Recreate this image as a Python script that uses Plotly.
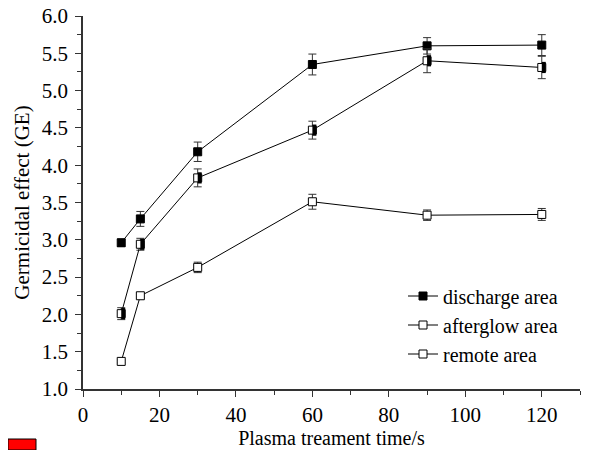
import plotly.graph_objects as go

time_s = [10, 15, 30, 60, 90, 120]
discharge = [2.96, 3.28, 4.18, 5.35, 5.60, 5.61]
discharge_err = [0.05, 0.10, 0.13, 0.14, 0.11, 0.14]
afterglow = [2.01, 2.94, 3.83, 4.47, 5.40, 5.31]
afterglow_err = [0.08, 0.08, 0.12, 0.12, 0.16, 0.15]
remote = [1.37, 2.25, 2.63, 3.51, 3.33, 3.34]
remote_err = [0.02, 0.04, 0.07, 0.10, 0.07, 0.08]

FONT = "Liberation Serif, Times New Roman, serif"

W, H = 582, 442
L, R, T, B = 75, 10, 8, 61
PW, PH = W - L - R, H - T - B
X_RANGE = [0, 130]
shift = 2 * (X_RANGE[1] - X_RANGE[0]) / PW  # 2 px in data units

fig = go.Figure()

def err(vals):
    return dict(type="data", array=vals, visible=True, color="#333", thickness=1, width=4)

fig.add_trace(go.Scatter(
    x=time_s, y=discharge, error_y=err(discharge_err), mode="lines+markers",
    name="discharge area", line=dict(color="black", width=1),
    marker=dict(symbol="square", size=8, color="black", line=dict(color="black", width=1))))
fig.add_trace(go.Scatter(
    x=time_s, y=afterglow, error_y=err(afterglow_err), mode="lines+markers",
    name="afterglow area", line=dict(color="black", width=1),
    marker=dict(symbol="square", size=8, color="white", line=dict(color="black", width=1))))
# right half fill of the afterglow markers (drawn on a hidden axis shifted by 2 px)
fig.add_trace(go.Scatter(
    x=time_s, y=afterglow, mode="markers", showlegend=False, hoverinfo="skip", xaxis="x2",
    marker=dict(symbol="line-ns", size=8, line=dict(color="black", width=4))))
fig.add_trace(go.Scatter(
    x=time_s, y=remote, error_y=err(remote_err), mode="lines+markers",
    name="remote area", line=dict(color="black", width=1),
    marker=dict(symbol="square", size=8, color="white", line=dict(color="black", width=1))))

fig.update_layout(
    width=W, height=H,
    margin=dict(l=L, r=R, t=T, b=B, autoexpand=False),
    paper_bgcolor="white", plot_bgcolor="white",
    font=dict(family=FONT, color="black", size=20),
    showlegend=True,
    legend=dict(x=(436 - 41 - L) / PW, y=(H - B - 317) / PH, xanchor="left", yanchor="middle",
                font=dict(family=FONT, size=20), bgcolor="rgba(0,0,0,0)",
                tracegroupgap=0, itemwidth=30),
    xaxis=dict(range=X_RANGE, tickvals=[0, 20, 40, 60, 80, 100, 120], automargin=False,
               ticks="outside", ticklen=6, tickwidth=1, tickcolor="#333",
               showline=True, linecolor="#333", linewidth=1.5, showgrid=False, zeroline=False,
               tickfont=dict(family=FONT, size=21), ticklabeloverflow="allow",
               minor=dict(dtick=10, tick0=0, ticks="outside", ticklen=4, tickcolor="#333"),
               title=dict(text="Plasma treament time/s", font=dict(family=FONT, size=20), standoff=4)),
    xaxis2=dict(range=[X_RANGE[0] - shift, X_RANGE[1] - shift], overlaying="x", visible=False,
                automargin=False),
    yaxis=dict(range=[1.0, 6.0], dtick=0.5, tick0=1.0, tickformat=".1f", automargin=False,
               ticks="outside", ticklen=6, tickwidth=1, tickcolor="#333",
               showline=True, linecolor="#333", linewidth=1.5, showgrid=False, zeroline=False,
               tickfont=dict(family=FONT, size=21), ticklabelstandoff=3, ticklabeloverflow="allow",
               minor=dict(dtick=0.25, tick0=1.0, ticks="outside", ticklen=4, tickcolor="#333"),
               title=dict(text="Germicidal effect (GE)", font=dict(family=FONT, size=21), standoff=6)),
    shapes=[dict(type="rect", xref="paper", yref="paper",
                 x0=(0 - L) / PW, x1=(28 - L) / PW, y0=(H - B - H) / PH, y1=(H - B - 431) / PH,
                 fillcolor="red", line=dict(color="black", width=1))],
)

fig.write_html("out.html")
